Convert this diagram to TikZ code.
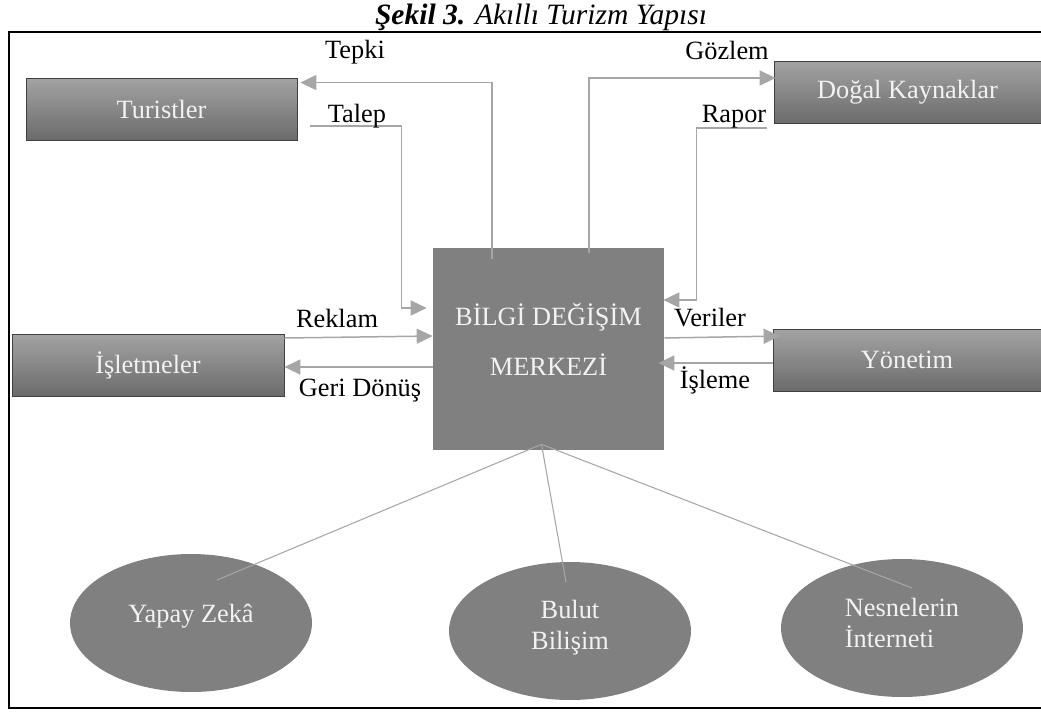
\documentclass[tikz,border=0pt]{standalone}
\usepackage{fontspec}
\setmainfont{Liberation Serif}[ItalicFont={Liberation Serif Italic}, BoldItalicFont={Liberation Serif Bold Italic}]
\usepackage{tikz}
\usetikzlibrary{calc,shapes.geometric,arrows.meta}

\begin{document}
\begin{tikzpicture}[x=0.02cm, y=-0.02cm,
    yazi/.style={font=\fontsize{15}{17.6}\selectfont},
    kutu/.style={yazi, draw=black!75, line width=0.5pt, top color=black!36, bottom color=black!58, text=white!95!black, minimum height=1.24cm, inner sep=0pt},
    oval/.style={yazi, ellipse, fill=black!50, text=white!95!black, minimum width=4.84cm, minimum height=2.76cm, inner sep=0pt},
    ok/.style={draw=black!35, line width=0.85pt, -{Triangle[length=0.32cm, width=0.3cm]}},
    ince/.style={draw=black!35, line width=0.6pt},
    etiket/.style={yazi, anchor=base, inner sep=0pt}]
    \useasboundingbox (0,0) rectangle (1041,711);

    \node[font=\fontsize{16.8}{19}\selectfont, anchor=base, inner sep=0pt] (baslik) at (541,24) {\textbf{\textit{Şekil 3.}} \textit{Akıllı Turizm Yapısı}};
    \draw[line width=1.2pt] (9,32) rectangle (1050,708);

    % Kutular
    \node[kutu, minimum width=5.42cm] (turistler) at (161.5,109) {Turistler};
    \node[kutu, minimum width=5.34cm] (dogal) at (907.5,92) {Doğal Kaynaklar};
    \node[kutu, minimum width=5.44cm] (isletmeler) at (148,365) {İşletmeler};
    \node[kutu, minimum width=5.36cm] (yonetim) at (907,360) {Yönetim};
    \node[yazi, fill=black!50, text=white!95!black, align=center, minimum width=4.62cm, minimum height=4.04cm, font=\fontsize{15}{28.5}\selectfont, text depth=0.4cm] (merkez) at (548.5,349) {BİLGİ DEĞİŞİM\\MERKEZİ};

    % Ovaller
    \node[oval, text depth=0.38cm] (yapay) at (191,623) {Yapay Zekâ};
    \node[oval, align=center, text depth=0.24cm] (bulut) at (570,631) {Bulut\\Bilişim};
    \node[oval, align=left, text depth=0.2cm] (nesne) at (902,628) {Nesnelerin\\İnterneti};

    % Okların serbest uçları
    \coordinate (tepki) at (492,259);
    \coordinate (talep) at (310,126);
    \coordinate (gozlem) at (589,253);
    \coordinate (rapor) at (767,128);
    \coordinate (alt) at ($(merkez.south)+(-7,-6)$);
    \coordinate (yapay uc) at ($(yapay)+(26,-43)$);
    \coordinate (bulut uc) at ($(bulut)+(-4,-49)$);
    \coordinate (nesne uc) at ($(nesne)+(10,-40)$);

    \draw[ok] (tepki) |- ($(turistler.north east)+(3,5)$);
    \draw[ok] (talep) -| ($(merkez.west)+(-31,-41)$) -- ($(merkez.west)+(-6,-41)$);
    \draw[ok] (gozlem) |- ($(dogal.west)+(2,-14)$);
    \draw[ok] (rapor) -| ($(merkez.east)+(32,-49)$) -- ($(merkez.east)+(-1,-49)$);
    \draw[ok] ($(isletmeler.east)+(0,-27)$) -- ($(merkez.west)+(0,-13)$);
    \draw[ok] ($(merkez.west)+(0,18)$) -- ($(isletmeler.east)+(0,2)$);
    \draw[ok] ($(merkez.east)+(0,-11)$) -- ($(yonetim.west)+(7,-24)$);
    \draw[ok] ($(yonetim.west)+(0,3)$) -- ($(merkez.east)+(-6,14)$);

    \foreach \e in {yapay,bulut,nesne}
        \draw[ince] (alt) -- (\e\space uc);

    % Etiketler
    \foreach \ad/\x/\y/\metin in {e1/355/58/Tepki, e2/357/122/Talep, e3/727/59/Gözlem, e4/734/122/Rapor, e5/337/327/Reklam, e6/360/396/Geri Dönüş, e7/710/326/Veriler, e8/715/388/İşleme}
        \node[etiket] (\ad) at (\x,\y) {\metin};
\end{tikzpicture}
\end{document}
